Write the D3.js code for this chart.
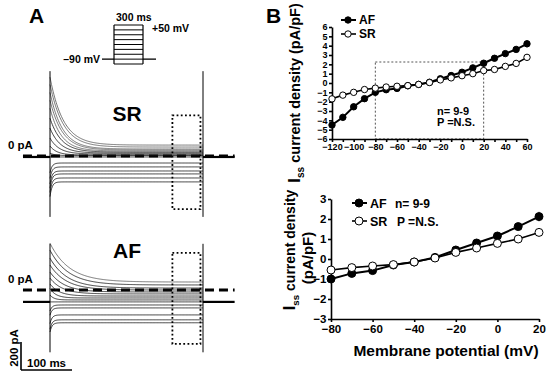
<!DOCTYPE html>
<html>
<head>
<meta charset="utf-8">
<script src="https://cdn.jsdelivr.net/npm/d3@7"></script>
<style>
  body { margin: 0; background: #fff; }
  svg { display: block; font-family: "Liberation Sans", Arial, sans-serif; font-weight: bold; }
</style>
</head>
<body>
<svg id="fig" width="550" height="377"></svg>
<script>
// I-V curve data: step potential (mV) vs steady-state current density (pA/pF)
const voltages = [-120, -110, -100, -90, -80, -70, -60, -50, -40, -30, -20, -10, 0, 10, 20, 30, 40, 50, 60]
const afMean = [-4.5, -3.68, -2.55, -1.68, -1.0, -0.72, -0.58, -0.3, -0.15, 0.08, 0.45, 0.8, 1.15, 1.62, 2.12, 2.65, 3.15, 3.6, 4.2]
const srMean = [-1.7, -1.3, -1.0, -0.7, -0.55, -0.43, -0.35, -0.28, -0.15, 0.05, 0.33, 0.55, 0.78, 1.0, 1.33, 1.45, 1.78, 2.1, 2.75]
const afErr = [0.3, 0.4, 0.35, 0.2, 0.12, 0.1, 0.1, 0.08, 0.08, 0.08, 0.1, 0.1, 0.12, 0.15, 0.25, 0.2, 0.25, 0.35, 0.4]
const srErr = [0.15, 0.12, 0.1, 0.1, 0.08, 0.08, 0.06, 0.06, 0.06, 0.06, 0.08, 0.08, 0.1, 0.1, 0.12, 0.12, 0.15, 0.2, 0.3]

// Raw current traces (pA): initial value, steady-state value and decay time constant (ms)
const srPeak   = [563, 511, 454, 398, 341, 270, 199, 128, 71, 20, -7, -120, -160, -200, -230, -260, -290]
const srSteady = [78, 64, 50, 43, 36, 28, 21, 14, 7, 3, -7, -50, -78, -107, -128, -157, -185]
const srTau    = [26, 26, 24, 24, 22, 22, 20, 18, 14, 10, 5, 4, 4, 4, 4, 4, 4]
const srHold = -7
const afPeak   = [334, 284, 227, 178, 128, 85, 43, 10, -36, -85, -150, -180, -240, -280, -300]
const afSteady = [57, 36, 14, 0, -14, -28, -43, -57, -71, -85, -107, -128, -178, -213, -234]
const afTau    = [38, 36, 34, 32, 28, 24, 18, 12, 8, 5, 4, 4, 4, 4, 4]
const afHold = -85

// capacitive transients at step on/off (pA) and measurement window (ms, pA)
const srCap = [606, -435]
const afCap = [330, -445]
const srWindow = { t: [240, 295], pA: [290, -380] }
const afWindow = { t: [240, 295], pA: [265, -385] }

// voltage protocol steps (mV)
const protocolSteps = [50, 30, 10, -10, -30, -50, -70, -90, -110]

const svg = d3.select('#fig')

// ---------- Panel A ----------
svg.append('text').attr('x', 29).attr('y', 23).attr('font-size', 21).text('A')
svg.append('text').attr('x', 266).attr('y', 23).attr('font-size', 21).text('B')

// protocol
const pt = d3.scaleLinear().domain([0, 300]).range([114, 143])
const pv = d3.scaleLinear().domain([-110, 50]).range([64, 25])
const prot = svg.append('g').attr('stroke', '#000').attr('fill', 'none')
prot.append('line').attr('x1', 102).attr('x2', pt(0)).attr('y1', pv(-90)).attr('y2', pv(-90)).attr('stroke-width', 1.3)
prot.append('line').attr('x1', pt(300)).attr('x2', 156).attr('y1', pv(-90)).attr('y2', pv(-90)).attr('stroke-width', 1.3)
prot.selectAll('line.step').data(protocolSteps).enter().append('line')
  .attr('class', 'step')
  .attr('x1', pt(0)).attr('x2', pt(300))
  .attr('y1', (d) => pv(d)).attr('y2', (d) => pv(d))
  .attr('stroke-width', 1)
prot.append('line').attr('x1', pt(0)).attr('x2', pt(0)).attr('y1', pv(50)).attr('y2', pv(-110)).attr('stroke-width', 1.2)
prot.append('line').attr('x1', pt(300)).attr('x2', pt(300)).attr('y1', pv(50)).attr('y2', pv(-110)).attr('stroke-width', 1.2)
svg.append('text').attr('x', 116).attr('y', 21).attr('font-size', 10.5).text('300 ms')
svg.append('text').attr('x', 152).attr('y', 32).attr('font-size', 10.5).text('+50 mV')
svg.append('text').attr('x', 100).attr('y', pv(-90) + 4).attr('font-size', 10.5).attr('text-anchor', 'end').text('\u201390 mV')

// time axis shared by both trace panels (100 ms = 51 px)
const tx = d3.scaleLinear().domain([0, 100]).range([50, 101])

function drawTraces(zeroY, peak, steady, tau, hold, cap, win, label, labelY) {
  // 200 pA = 28 px
  const cy = d3.scaleLinear().domain([0, 200]).range([zeroY, zeroY - 28])
  const g = svg.append('g')
  const times = d3.range(0, 301, 1.5)
  const line = d3.line().x((d) => tx(d[0])).y((d) => cy(d[1]))

  // zero-current dashed line
  g.append('line').attr('x1', tx(-53)).attr('x2', tx(362)).attr('y1', cy(0)).attr('y2', cy(0))
    .attr('stroke', '#000').attr('stroke-width', 3).attr('stroke-dasharray', '9,5')

  // traces
  peak.forEach((p, i) => {
    const pts = times.map((t) => [t, steady[i] + (p - steady[i]) * Math.exp(-t / tau[i])])
    g.append('path').attr('d', line(pts)).attr('fill', 'none')
      .attr('stroke', p > 300 ? '#555' : '#111').attr('stroke-width', 0.8)
  })

  // holding current before and after the step
  g.append('line').attr('x1', tx(-53)).attr('x2', tx(0)).attr('y1', cy(hold)).attr('y2', cy(hold))
    .attr('stroke', '#000').attr('stroke-width', 2.2)
  g.append('line').attr('x1', tx(300)).attr('x2', tx(362)).attr('y1', cy(hold)).attr('y2', cy(hold))
    .attr('stroke', '#000').attr('stroke-width', 2.2)

  // capacitive transients
  ;[0, 300].forEach((t) => {
    g.append('line').attr('x1', tx(t)).attr('x2', tx(t)).attr('y1', cy(cap[0])).attr('y2', cy(cap[1]))
      .attr('stroke', '#000').attr('stroke-width', 1)
  })

  // measurement window
  g.append('rect')
    .attr('x', tx(win.t[0])).attr('y', cy(win.pA[0]))
    .attr('width', tx(win.t[1]) - tx(win.t[0])).attr('height', cy(win.pA[1]) - cy(win.pA[0]))
    .attr('fill', 'none').attr('stroke', '#000').attr('stroke-width', 1.8)
    .attr('stroke-dasharray', '1.8,2.4')

  svg.append('text').attr('x', 8).attr('y', zeroY - 7).attr('font-size', 11.5).text('0 pA')
  svg.append('text').attr('x', 127).attr('y', labelY).attr('font-size', 21).attr('text-anchor', 'middle').text(label)
  return cy
}

drawTraces(156, srPeak, srSteady, srTau, srHold, srCap, srWindow, 'SR', 121)
drawTraces(290, afPeak, afSteady, afTau, afHold, afCap, afWindow, 'AF', 258)

// scale bar
const sb = svg.append('g').attr('stroke', '#000').attr('stroke-width', 1.6)
sb.append('line').attr('x1', 21).attr('x2', 21).attr('y1', 370 - 28).attr('y2', 370)
sb.append('line').attr('x1', 21).attr('x2', 21 + tx(100) - tx(0)).attr('y1', 370).attr('y2', 370)
svg.append('text').attr('x', 27).attr('y', 367).attr('font-size', 11.5).text('100 ms')
svg.append('text').attr('transform', 'translate(18,348) rotate(-90)').attr('font-size', 11.5)
  .attr('text-anchor', 'middle').text('200 pA')

// ---------- Panel B ----------
function ivPanel(opts) {
  const x = d3.scaleLinear().domain(opts.xDomain).range(opts.xRange)
  const y = d3.scaleLinear().domain(opts.yDomain).range(opts.yRange)
  const g = svg.append('g')
  const idx = voltages.map((v, i) => i).filter((i) => voltages[i] >= opts.xDomain[0] && voltages[i] <= opts.xDomain[1])

  if (opts.box) {
    g.append('rect').attr('x', x(opts.box[0])).attr('y', y(opts.box[2]))
      .attr('width', x(opts.box[1]) - x(opts.box[0])).attr('height', y(opts.yDomain[0]) - y(opts.box[2]))
      .attr('fill', 'none').attr('stroke', '#555').attr('stroke-width', 1).attr('stroke-dasharray', '2,2')
  }

  const yAxis = d3.axisLeft(y).tickValues(d3.range(opts.yDomain[0], opts.yDomain[1] + 1))
    .tickSize(3).tickSizeOuter(0).tickPadding(1.5).tickFormat(d3.format('d'))
  const xAxis = d3.axisBottom(x).tickValues(d3.range(opts.xDomain[0], opts.xDomain[1] + 1, opts.xTickStep))
    .tickSize(3).tickSizeOuter(0).tickPadding(opts.xPad)
    .tickFormat((d) => (d % 20 === 0 ? d3.format('d')(d) : ''))
  const ya = g.append('g').attr('transform', `translate(${opts.xRange[0]},0)`).call(yAxis)
  const xa = g.append('g').attr('transform', `translate(0,${opts.yRange[0]})`).call(xAxis)
  ;[ya, xa].forEach((a) => {
    a.selectAll('path, line').attr('stroke', '#000').attr('stroke-width', 1.6)
    a.selectAll('text').attr('font-size', opts.tickFont).attr('font-weight', 'bold')
      .attr('font-family', '"Liberation Sans", Arial, sans-serif').attr('fill', '#000')
  })

  const series = [
    { mean: afMean, err: afErr, fill: '#000', w: 2 },
    { mean: srMean, err: srErr, fill: '#fff', w: 1.6 },
  ]
  series.forEach((s) => {
    g.selectAll(null).data(idx).enter().append('line')
      .attr('x1', (i) => x(voltages[i])).attr('x2', (i) => x(voltages[i]))
      .attr('y1', (i) => y(s.mean[i] - s.err[i])).attr('y2', (i) => y(s.mean[i] + s.err[i]))
      .attr('stroke', '#999').attr('stroke-width', 1)
  })
  series.forEach((s) => {
    const line = d3.line().x((i) => x(voltages[i])).y((i) => y(s.mean[i]))
    g.append('path').attr('d', line(idx)).attr('fill', 'none').attr('stroke', '#000').attr('stroke-width', s.w)
  })
  series.forEach((s) => {
    g.selectAll(null).data(idx).enter().append('circle')
      .attr('cx', (i) => x(voltages[i])).attr('cy', (i) => y(s.mean[i])).attr('r', opts.r)
      .attr('fill', s.fill).attr('stroke', '#000').attr('stroke-width', 1)
  })

  // legend
  const lg = svg.append('g')
  series.forEach((s, k) => {
    const ly = opts.legend.y[k]
    lg.append('line').attr('x1', opts.legend.x).attr('x2', opts.legend.x + 15).attr('y1', ly).attr('y2', ly)
      .attr('stroke', '#000').attr('stroke-width', s.w)
    lg.append('circle').attr('cx', opts.legend.x + 7).attr('cy', ly).attr('r', opts.r)
      .attr('fill', s.fill).attr('stroke', '#000')
    lg.append('text').attr('x', opts.legend.x + 18).attr('y', ly + opts.legend.font * 0.36)
      .attr('font-size', opts.legend.font).text(k === 0 ? 'AF' : 'SR')
  })
  opts.notes.forEach((n) => {
    svg.append('text').attr('x', n.x).attr('y', n.y).attr('font-size', n.font).text(n.text)
  })
  return { x, y }
}

ivPanel({
  xDomain: [-120, 60], xRange: [332, 527],
  yDomain: [-6, 6], yRange: [139, 27],
  xTickStep: 10, xPad: 2, tickFont: 9, r: 3.2,
  box: [-80, 20, 2.25],
  legend: { x: 341, y: [20, 34], font: 12 },
  notes: [
    { x: 437, y: 114.5, font: 11, text: 'n= 9-9' },
    { x: 437, y: 125.5, font: 11, text: 'P =N.S.' },
  ],
})

ivPanel({
  xDomain: [-80, 20], xRange: [331, 539],
  yDomain: [-3, 3], yRange: [319, 199],
  xTickStep: 20, xPad: 3, tickFont: 11.5, r: 4,
  box: null,
  legend: { x: 352, y: [203, 221], font: 12.5 },
  notes: [
    { x: 395, y: 207.5, font: 12, text: 'n= 9-9' },
    { x: 397, y: 225.5, font: 12, text: 'P =N.S.' },
  ],
})

// axis titles
function issLabel(sel, size, rest) {
  sel.append('tspan').attr('font-size', size * 1.15).text('I')
  sel.append('tspan').attr('font-size', size * 0.7).attr('dy', size * 0.3).text('ss')
  sel.append('tspan').attr('dy', -size * 0.3).text(rest)
}
const t1 = svg.append('text').attr('transform', 'translate(300,93) rotate(-90)')
  .attr('font-size', 14.5).attr('text-anchor', 'middle')
issLabel(t1, 14.5, ' current density (pA/pF)')

const t2 = svg.append('text').attr('transform', 'translate(295,250) rotate(-90)')
  .attr('font-size', 14).attr('text-anchor', 'middle')
issLabel(t2, 14, ' current density')
svg.append('text').attr('transform', 'translate(313,258) rotate(-90)')
  .attr('font-size', 15).attr('text-anchor', 'middle').text('(pA/pF)')

svg.append('text').attr('x', 446).attr('y', 356).attr('font-size', 15.5)
  .attr('text-anchor', 'middle').text('Membrane potential (mV)')
</script>
</body>
</html>
